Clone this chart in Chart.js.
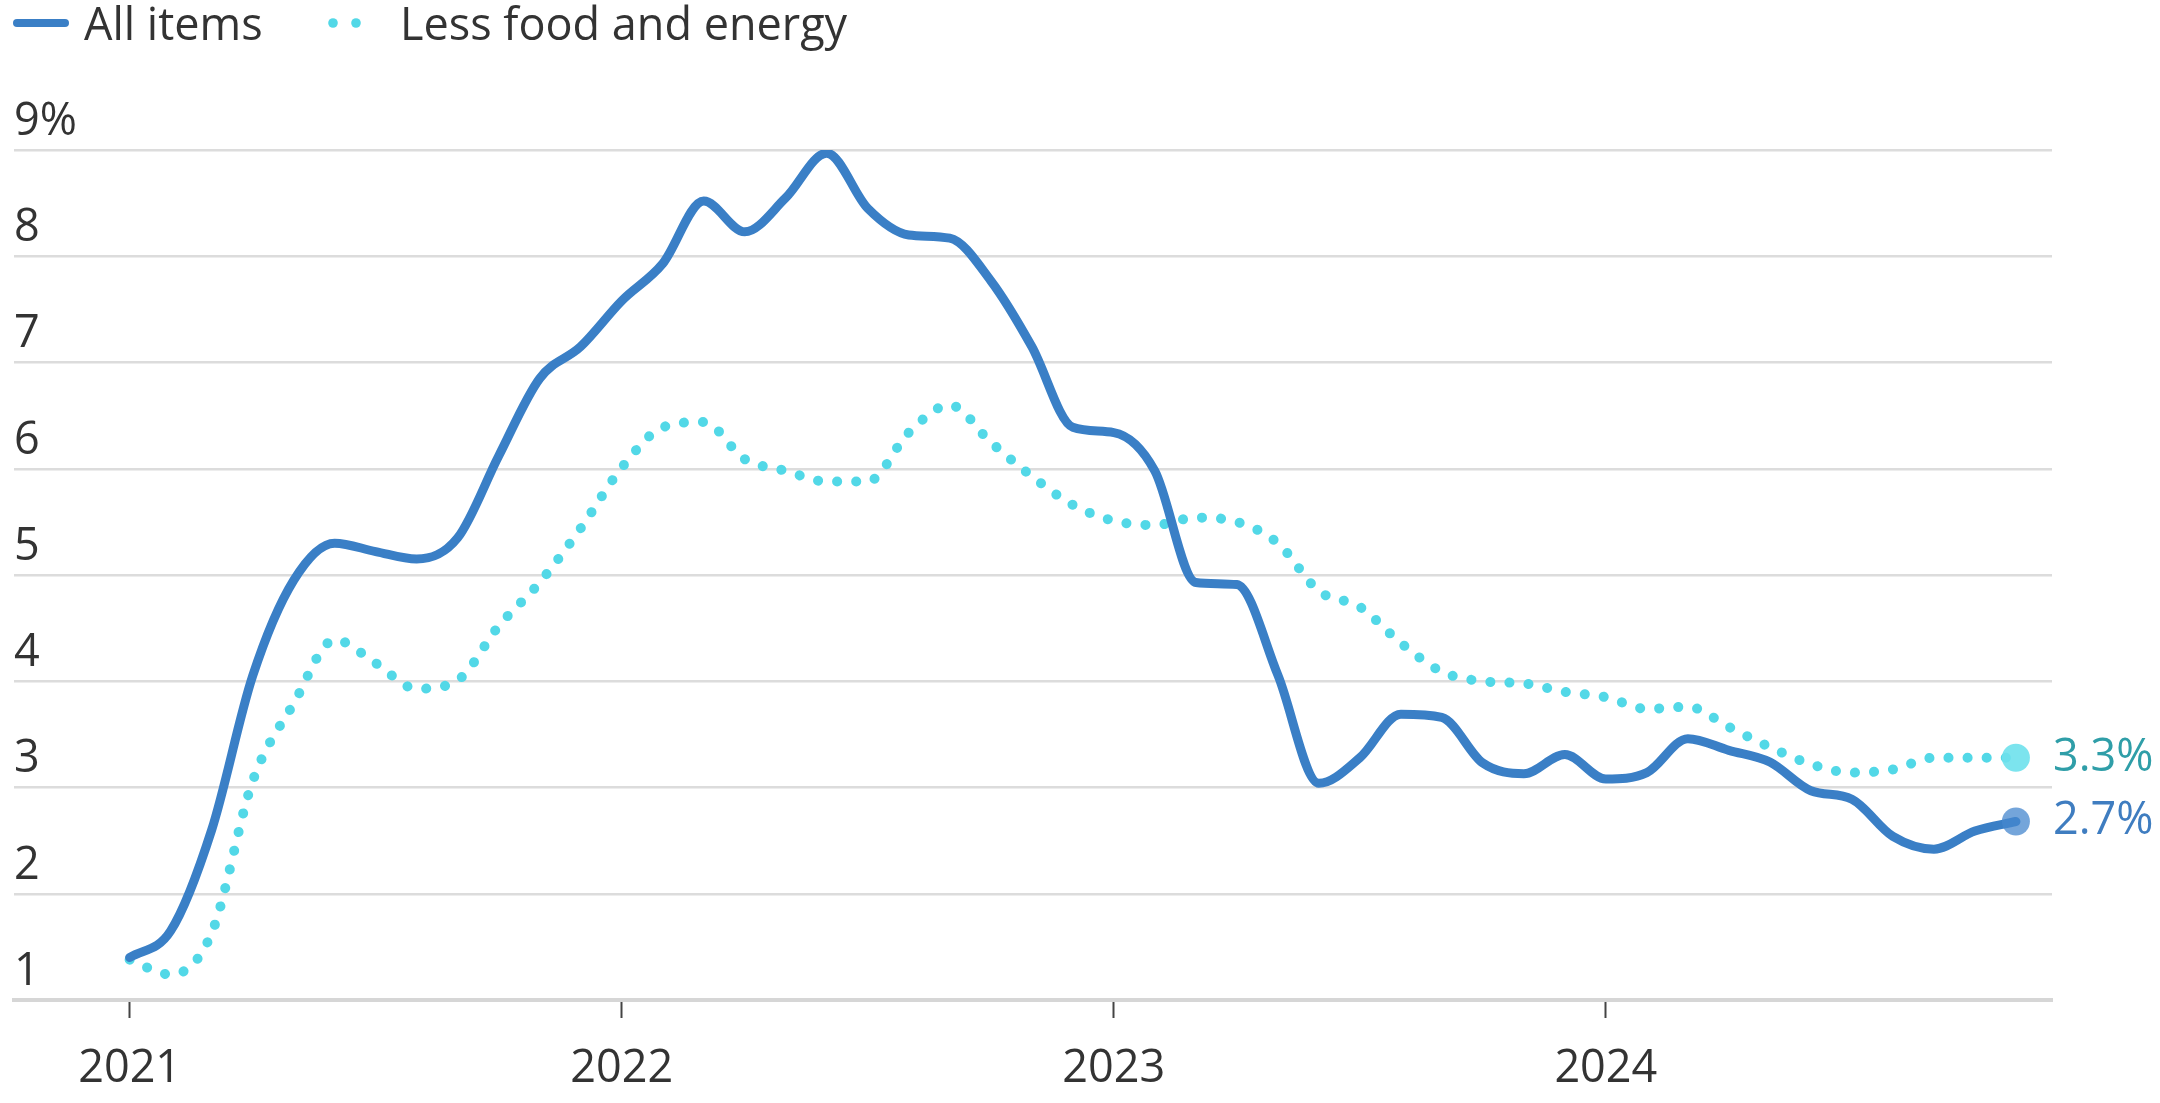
<!DOCTYPE html>
<html>
<head>
<meta charset="utf-8">
<script src="https://cdn.jsdelivr.net/npm/chart.js@4"></script>
<style>
  html, body { margin: 0; padding: 0; background: #ffffff; }
  #wrap { position: relative; width: 2160px; height: 1103px; }
  canvas { display: block; }
</style>
</head>
<body>
<div id="wrap"><canvas id="c" width="2160" height="1103"></canvas></div>
<script>
// ---------- DATA ----------
const months = [
  '2021-01','2021-02','2021-03','2021-04','2021-05','2021-06','2021-07','2021-08','2021-09','2021-10','2021-11','2021-12',
  '2022-01','2022-02','2022-03','2022-04','2022-05','2022-06','2022-07','2022-08','2022-09','2022-10','2022-11','2022-12',
  '2023-01','2023-02','2023-03','2023-04','2023-05','2023-06','2023-07','2023-08','2023-09','2023-10','2023-11','2023-12',
  '2024-01','2024-02','2024-03','2024-04','2024-05','2024-06','2024-07','2024-08','2024-09','2024-10','2024-11'
];
const seriesNames = ['All items', 'Less food and energy'];
const allItems = [
  1.4, 1.65, 2.6, 4.05, 4.95, 5.3, 5.22, 5.15, 5.35, 6.12, 6.85, 7.15,
  7.58, 7.93, 8.52, 8.23, 8.55, 8.97, 8.45, 8.2, 8.17, 7.77, 7.15, 6.39,
  6.34, 5.98, 4.93, 4.91, 4.06, 3.04, 3.28, 3.69, 3.66, 3.23, 3.13, 3.31,
  3.08, 3.14, 3.46, 3.35, 3.24, 2.97, 2.89, 2.54, 2.42, 2.59, 2.68
];
const lessFoodEnergy = [
  1.38, 1.24, 1.63, 3.06, 3.79, 4.39, 4.17, 3.93, 4.01, 4.52, 4.93, 5.44,
  6.01, 6.39, 6.44, 6.09, 5.98, 5.88, 5.88, 6.34, 6.6, 6.25, 5.93, 5.66,
  5.51, 5.47, 5.54, 5.5, 5.3, 4.85, 4.7, 4.36, 4.09, 4.0, 3.98, 3.9,
  3.85, 3.74, 3.76, 3.57, 3.38, 3.22, 3.14, 3.17, 3.28, 3.28, 3.28
];
const yearTicks = ['2021', '2022', '2023', '2024'];
const yTickLabels = ['1', '2', '3', '4', '5', '6', '7', '8', '9%'];

// ---------- STYLE ----------
const FONT = "'Open Sans', 'Liberation Sans', sans-serif";
const FONT_SIZE = 45;
const BLUE = '#3a7fc6';
const CYAN = '#52d8e7';
const TEXT = '#333333';
const lineColors = [BLUE, CYAN];
const endDotColors = ['rgba(70,135,205,0.75)', 'rgba(110,225,236,0.9)'];
const endLabelColors = ['#3f7dc0', '#2f9ea8'];

function pointRadii(arr) { return arr.map((v, i) => i === arr.length - 1 ? 14 : 0); }

const legendPlugin = {
  id: 'topLegend',
  afterDraw(chart) {
    const ctx = chart.ctx;
    ctx.save();
    ctx.font = FONT_SIZE + 'px ' + FONT;
    ctx.fillStyle = TEXT;
    ctx.textBaseline = 'alphabetic';
    ctx.textAlign = 'left';
    const ds = chart.data.datasets;
    // item 0: solid line swatch
    ctx.strokeStyle = ds[0].borderColor;
    ctx.lineWidth = 8;
    ctx.lineCap = 'round';
    ctx.beginPath(); ctx.moveTo(17, 23); ctx.lineTo(65, 23); ctx.stroke();
    ctx.fillText(ds[0].label, 84, 40);
    // item 1: dotted swatch
    ctx.fillStyle = ds[1].borderColor;
    [333, 356].forEach(cx => { ctx.beginPath(); ctx.arc(cx, 23, 4.8, 0, Math.PI * 2); ctx.fill(); });
    ctx.fillStyle = TEXT;
    ctx.fillText(ds[1].label, 400, 40);
    ctx.restore();
  }
};

const endLabelPlugin = {
  id: 'endLabels',
  afterDatasetsDraw(chart) {
    const ctx = chart.ctx;
    ctx.save();
    ctx.font = FONT_SIZE + 'px ' + FONT;
    ctx.textBaseline = 'middle';
    ctx.textAlign = 'left';
    chart.data.datasets.forEach((ds, i) => {
      const meta = chart.getDatasetMeta(i);
      const pt = meta.data[meta.data.length - 1];
      const v = ds.data[ds.data.length - 1].y;
      ctx.fillStyle = endLabelColors[i];
      ctx.fillText(v.toFixed(1) + '%', pt.x + 37, pt.y);
    });
    ctx.restore();
  }
};

new Chart(document.getElementById('c'), {
  type: 'line',
  data: {
    datasets: [
      {
        label: seriesNames[0],
        data: allItems.map((v, i) => ({ x: i, y: v })),
        borderColor: lineColors[0],
        borderWidth: 9,
        borderCapStyle: 'round',
        borderJoinStyle: 'round',
        cubicInterpolationMode: 'monotone',
        pointRadius: pointRadii(allItems),
        pointBackgroundColor: endDotColors[0],
        pointBorderWidth: 0,
        fill: false
      },
      {
        label: seriesNames[1],
        data: lessFoodEnergy.map((v, i) => ({ x: i, y: v })),
        borderColor: lineColors[1],
        borderWidth: 10,
        borderDash: [0.1, 19],
        borderCapStyle: 'round',
        borderJoinStyle: 'round',
        cubicInterpolationMode: 'monotone',
        pointRadius: pointRadii(lessFoodEnergy),
        pointBackgroundColor: endDotColors[1],
        pointBorderWidth: 0,
        fill: false
      }
    ]
  },
  options: {
    responsive: false,
    animation: false,
    devicePixelRatio: 1,
    events: [],
    layout: { padding: { left: 0, right: 108, top: 150, bottom: 0 } },
    plugins: { legend: { display: false }, tooltip: { enabled: false } },
    scales: {
      x: {
        type: 'linear',
        min: -2.82,
        max: 46.88,
        afterBuildTicks: s => { s.ticks = yearTicks.map(y => ({ value: months.indexOf(y + '-01') })); },
        afterFit: s => { s.height = 103; },
        grid: { drawOnChartArea: false, drawTicks: true, tickLength: 18, tickColor: '#444444', tickWidth: 2 },
        border: { display: true, color: '#d6d6d6', width: 4 },
        ticks: {
          autoSkip: false, maxRotation: 0, padding: 24,
          font: { family: FONT, size: FONT_SIZE }, color: TEXT,
          callback: v => { const m = months[v]; return m ? m.slice(0, 4) : ''; }
        }
      },
      y: {
        min: 1,
        max: 9,
        afterBuildTicks: s => { s.ticks = yTickLabels.map((t, i) => ({ value: i + 1 })); },
        afterFit: s => { s.width = 14; },
        grid: {
          drawTicks: false,
          color: '#dcdcdc',
          lineWidth: c => (c.tick && c.tick.value === 1) ? 4 : 2.5
        },
        border: { display: false },
        ticks: {
          mirror: true, padding: 0, labelOffset: -28, crossAlign: 'near',
          font: { family: FONT, size: FONT_SIZE }, color: TEXT,
          callback: (v, i) => yTickLabels[v - 1]
        }
      }
    }
  },
  plugins: [legendPlugin, endLabelPlugin]
});
</script>
</body>
</html>
